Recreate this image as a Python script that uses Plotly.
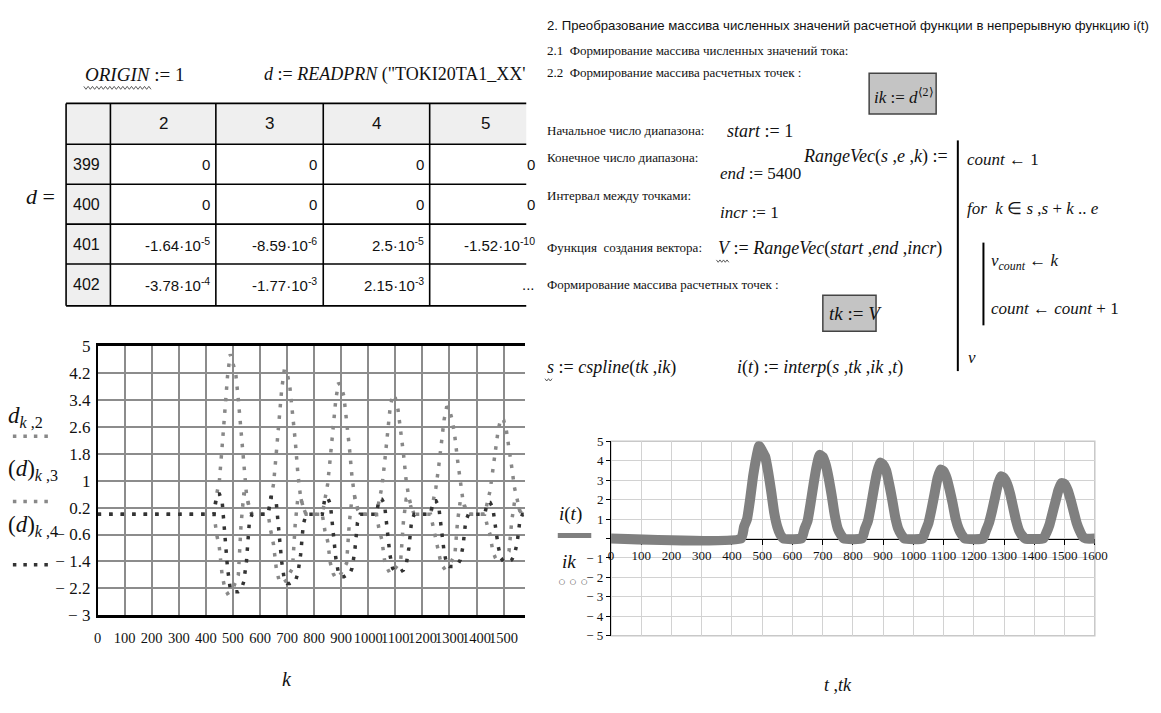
import plotly.graph_objects as go

W, H = 1161, 713


def px(x):
    return x / W


def py(y):
    return 1 - y / H


SERIF = "Liberation Serif, Times New Roman, serif"
SANS = "Liberation Sans, Arial, sans-serif"

# ---------------- data ----------------
k = [0,
     430, 440, 450, 460, 470, 480, 490, 500, 510, 520, 530, 540, 550, 560, 570,
     630, 640, 650, 660, 670, 680, 690, 700, 710, 720, 730, 740, 750, 760, 770,
     830, 840, 850, 860, 870, 880, 890, 900, 910, 920, 930, 940, 950, 960, 970,
     1030, 1040, 1050, 1060, 1070, 1080, 1090, 1100, 1110, 1120, 1130, 1140, 1150, 1160, 1170,
     1230, 1240, 1250, 1260, 1270, 1280, 1290, 1300, 1310, 1320, 1330, 1340, 1350, 1360, 1370,
     1430, 1440, 1450, 1460, 1470, 1480, 1490, 1500, 1510, 1520, 1530, 1540, 1550, 1560, 1570,
     1600]

d2 = [0,
      0, 0.6, 1.0, 2.0, 3.2, 4.1, 4.75, 4.5, 4.2, 3.4, 2.4, 1.3, 0.6, 0.2, 0,
      0, 0.5, 0.9, 1.8, 2.8, 3.7, 4.3, 4.2, 3.8, 3.1, 2.2, 1.2, 0.5, 0.2, 0,
      0, 0.5, 0.9, 1.7, 2.6, 3.4, 3.9, 3.8, 3.5, 2.8, 2.0, 1.1, 0.5, 0.2, 0,
      0, 0.4, 0.8, 1.5, 2.3, 3.1, 3.55, 3.45, 3.1, 2.5, 1.8, 1.0, 0.5, 0.2, 0,
      0, 0.4, 0.8, 1.4, 2.1, 2.8, 3.2, 3.1, 2.8, 2.3, 1.6, 0.9, 0.4, 0.15, 0,
      0, 0.3, 0.7, 1.3, 1.9, 2.5, 2.85, 2.8, 2.5, 2.0, 1.4, 0.8, 0.4, 0.1, 0,
      0]

d3 = [0,
      0, -0.6, -1.0, -1.8, -2.2, -2.35, -2.3, -2.2, -2.0, -1.8, -0.3, 0.6, 0.6, 0.2, 0,
      0, -0.5, -0.9, -1.6, -1.95, -2.05, -2.0, -1.95, -1.75, -1.6, -0.3, 0.5, 0.5, 0.2, 0,
      0, -0.5, -0.8, -1.45, -1.75, -1.9, -1.85, -1.75, -1.6, -1.45, -0.25, 0.5, 0.5, 0.15, 0,
      0, -0.45, -0.75, -1.35, -1.6, -1.75, -1.7, -1.6, -1.5, -1.35, -0.2, 0.45, 0.45, 0.15, 0,
      0, -0.4, -0.7, -1.2, -1.5, -1.6, -1.55, -1.5, -1.35, -1.2, -0.2, 0.4, 0.4, 0.1, 0,
      0, -0.35, -0.6, -1.1, -1.3, -1.4, -1.4, -1.3, -1.2, -1.1, -0.2, 0.35, 0.35, 0.1, 0,
      0]

d4 = [0,
      0, 0.6, 0.6, 0.4, -0.7, -1.6, -2.2, -2.3, -2.3, -2.3, -2.25, -2.0, -1.4, -0.3, 0,
      0, 0.5, 0.5, 0.35, -0.6, -1.4, -1.95, -2.05, -2.05, -2.0, -2.0, -1.75, -1.2, -0.3, 0,
      0, 0.5, 0.5, 0.3, -0.55, -1.3, -1.75, -1.85, -1.85, -1.8, -1.8, -1.6, -1.1, -0.25, 0,
      0, 0.45, 0.45, 0.3, -0.5, -1.2, -1.6, -1.7, -1.7, -1.7, -1.65, -1.5, -1.0, -0.2, 0,
      0, 0.4, 0.4, 0.25, -0.45, -1.1, -1.5, -1.55, -1.55, -1.55, -1.5, -1.35, -0.95, -0.2, 0,
      0, 0.35, 0.35, 0.2, -0.4, -0.95, -1.3, -1.4, -1.4, -1.4, -1.35, -1.2, -0.85, -0.2, 0,
      0]

left_xticks = [0, 100, 200, 300, 400, 500, 600, 700, 800, 900, 1000, 1100, 1200, 1300, 1400, 1500]
left_xtext = ["0", "100", "200", "300", "400", "500", "600", "700", "800", "900",
              "1000", "1100", "1200", "1300", "1400", "1500"]
left_yticks = [-3, -2.2, -1.4, -0.6, 0.2, 1, 1.8, 2.6, 3.4, 4.2, 5]
left_ytext = ["− 3", "− 2.2", "− 1.4", "− 0.6", "0.2", "1", "1.8", "2.6", "3.4", "4.2", "5"]

right_xticks = [0, 100, 200, 300, 400, 500, 600, 700, 800, 900, 1000, 1100, 1200, 1300, 1400, 1500, 1600]
right_xtext = ["0", "100", "200", "300", "400", "500", "600", "700", "800", "900",
               "1000", "1100", "1200", "1300", "1400", "1500", "1600"]
right_yticks = [-5, -4, -3, -2, -1, 0, 1, 2, 3, 4, 5]
right_ytext = ["− 5", "− 4", "− 3", "− 2", "− 1", "", "1", "2", "3", "4", "5"]

table_cols = ["2", "3", "4", "5"]
table_rows = ["399", "400", "401", "402"]
table_cells = [
    ["0", "0", "0", "0"],
    ["0", "0", "0", "0"],
    ["-1.64·10<sup>-5</sup>", "-8.59·10<sup>-6</sup>", "2.5·10<sup>-5</sup>", "-1.52·10<sup>-10</sup>"],
    ["-3.78·10<sup>-4</sup>", "-1.77·10<sup>-3</sup>", "2.15·10<sup>-3</sup>", "..."],
]

# ---------------- figure ----------------
fig = go.Figure()

GRAY = "#888888"
DARK = "#333333"
DOT = "3.5px,8px"

fig.add_trace(go.Scatter(x=k, y=d2, mode="lines", xaxis="x", yaxis="y",
                         line=dict(color=GRAY, width=3.5, dash=DOT), showlegend=False))
fig.add_trace(go.Scatter(x=k, y=d3, mode="lines", xaxis="x", yaxis="y",
                         line=dict(color=GRAY, width=3.5, dash=DOT), showlegend=False))
fig.add_trace(go.Scatter(x=k, y=d4, mode="lines", xaxis="x", yaxis="y",
                         line=dict(color=DARK, width=3.5, dash=DOT), showlegend=False))

fig.add_trace(go.Scatter(x=k, y=d2, mode="lines", xaxis="x2", yaxis="y2",
                         line=dict(color="#808080", width=10, shape="spline", smoothing=0.45),
                         showlegend=False))

# plot area geometry (pixels)
L = dict(x0=95, x1=529, y0=346, y1=623)
R = dict(x0=616, x1=1107, y0=444, y1=644)

fig.update_layout(
    width=W, height=H,
    margin=dict(l=0, r=0, t=0, b=0),
    paper_bgcolor="white", plot_bgcolor="white",
    xaxis=dict(domain=[px(L["x0"]), px(L["x1"])], range=[0, 1580], anchor="y",
               tickmode="array", tickvals=left_xticks, ticktext=left_xtext, tickangle=0,
               showgrid=True, gridcolor="#8c8c8c", gridwidth=1.5, zeroline=False,
               showline=True, linecolor="black", linewidth=2.5, mirror=True,
               ticks="", ticklabelstandoff=7,
               tickfont=dict(family=SERIF, size=14.5, color="#111")),
    yaxis=dict(domain=[py(L["y1"]), py(L["y0"])], range=[-3, 5], anchor="x",
               tickmode="array", tickvals=left_yticks, ticktext=left_ytext,
               showgrid=True, gridcolor="#8c8c8c", gridwidth=1.5, zeroline=False,
               showline=True, linecolor="black", linewidth=1.5,
               ticks="", ticklabelstandoff=2,
               tickfont=dict(family=SERIF, size=17, color="#111")),
    xaxis2=dict(domain=[px(R["x0"]), px(R["x1"])], range=[0, 1600], anchor="free",
                position=py(544), tickangle=0,
                tickmode="array", tickvals=right_xticks, ticktext=right_xtext,
                showgrid=True, gridcolor="#d2d2d2", gridwidth=1.2, zeroline=False,
                showline=True, linecolor="black", linewidth=1,
                ticks="outside", ticklen=5, tickcolor="black", layer="below traces",
                tickfont=dict(family=SERIF, size=13, color="#111")),
    yaxis2=dict(domain=[py(R["y1"]), py(R["y0"])], range=[-5, 5], anchor="x2",
                tickmode="array", tickvals=right_yticks, ticktext=right_ytext,
                showgrid=True, gridcolor="#d2d2d2", gridwidth=1.2, zeroline=False,
                showline=True, linecolor="black", linewidth=1,
                ticks="outside", ticklen=4, tickcolor="black", layer="below traces",
                ticklabelstandoff=0,
                tickfont=dict(family=SERIF, size=13, color="#111")),
)

shapes = []
ann = []


def txt(x, y, s, size=13, family=SERIF, anchor="left", color="#111"):
    ann.append(dict(x=px(x), y=py(y), xref="paper", yref="paper", text=s, showarrow=False,
                    xanchor=anchor, yanchor="middle",
                    font=dict(family=family, size=size, color=color)))


def line(x0, y0, x1, y1, color="black", width=1.5, dash="solid", layer="above"):
    shapes.append(dict(type="line", xref="paper", yref="paper",
                       x0=px(x0), y0=py(y0), x1=px(x1), y1=py(y1), layer=layer,
                       line=dict(color=color, width=width, dash=dash)))


def rect(x0, y0, x1, y1, fill=None, color="black", width=1.5, layer="below"):
    shapes.append(dict(type="rect", xref="paper", yref="paper",
                       x0=px(x0), y0=py(y0), x1=px(x1), y1=py(y1), layer=layer,
                       fillcolor=fill if fill else "rgba(0,0,0,0)",
                       line=dict(color=color, width=width)))


def zigzag(x0, x1, y, amp=1.5, step=2.2):
    pts = []
    x = x0
    i = 0
    while x <= x1:
        pts.append((x, y + (amp if i % 2 else -amp)))
        x += step
        i += 1
    path = "M " + " L ".join(f"{px(a):.5f},{py(b):.5f}" for a, b in pts)
    shapes.append(dict(type="path", xref="paper", yref="paper", path=path,
                       line=dict(color="#333", width=0.8)))


# ---------- top-left: ORIGIN, READPRN ----------
txt(80, 67, "<i>ORIGIN</i> := 1", size=19)
zigzag(81, 150, 81)
txt(262, 67, "<i>d</i> := <i>READPRN</i> (\"TOKI20TA1_XX'", size=18)
txt(20, 193, "<i>d</i> =", size=22)

# ---------- table ----------
col_x = [63, 108, 215, 324, 432, 545]
row_y = [97, 139, 180, 221, 262, 305]
TX1 = 530
rect(col_x[0], row_y[0], TX1, row_y[1], fill="#efefef", width=0)
rect(col_x[0], row_y[1], col_x[1], row_y[-1], fill="#efefef", width=0)
for yy in row_y:
    line(col_x[0], yy, TX1, yy, width=1.6)
for xx in col_x[:5]:
    line(xx, row_y[0], xx, row_y[-1], width=1.6)
for j, c in enumerate(table_cols):
    txt((col_x[j + 1] + col_x[j + 2]) / 2, (row_y[0] + row_y[1]) / 2, c, size=17,
        family=SANS, anchor="center")
for i, r in enumerate(table_rows):
    yc = (row_y[i + 1] + row_y[i + 2]) / 2
    txt(col_x[0] + 5, yc, r, size=16, family=SANS)
    for j in range(4):
        txt(col_x[j + 2] - 4, yc, table_cells[i][j], size=15, family=SANS, anchor="right")

# ---------- left chart labels ----------
txt(2, 419, "<i>d</i><sub><i>k</i> ,2</sub>", size=23)
line(9, 439, 47, 439, color=GRAY, width=3.5, dash="3.5px,7px")
txt(2, 474, "(<i>d</i>)<sub><i>k</i> ,3</sub>", size=23)
line(9, 506, 47, 506, color=GRAY, width=3.5, dash="3.5px,7px")
txt(2, 531, "(<i>d</i>)<sub><i>k</i> ,4</sub>", size=23)
line(9, 571, 47, 571, color=DARK, width=3.5, dash="3.5px,7px")
txt(287, 688, "<i>k</i>", size=20, anchor="center")

# ---------- right chart decorations ----------
rect(R["x0"], R["y0"], R["x1"], R["y1"], color="#c8c8c8", width=1.5)
txt(575, 519, "<i>i</i>(<i>t</i>)", size=19, anchor="center")
line(562, 541, 596, 541, color="#808080", width=5)
txt(573, 568, "<i>ik</i>", size=19, anchor="center")
txt(577, 588, "○ ○ ○", size=13, anchor="center", color="#666")
txt(846, 694, "<i>t</i> ,<i>tk</i>", size=18, anchor="center")

# ---------- right top text ----------
txt(549, 17, "2. Преобразование массива численных значений расчетной функции в непрерывную функцию i(t)",
    size=13.2, family=SANS)
txt(549, 43, "2.1  Формирование массива численных значений тока:", size=13)
txt(549, 65, "2.2  Формирование массива расчетных точек :", size=13)
rect(878, 66, 946, 108, fill="#c4c4c4", color="#444", width=1.5)
txt(881, 89, "<i>ik</i> := <i>d</i><sup>⟨2⟩</sup>", size=17)

txt(549, 125, "Начальное число диапазона:", size=13)
txt(732, 125, "<i>start</i> := 1", size=18)
txt(549, 153, "Конечное число диапазона:", size=13)
txt(725, 169, "<i>end</i> := 5400", size=17)
txt(809, 152, "<i>RangeVec</i>(<i>s</i> ,<i>e</i> ,<i>k</i>) :=", size=18)
txt(549, 192, "Интервал между точками:", size=13)
txt(725, 209, "<i>incr</i> := 1", size=17)
txt(549, 245, "Функция  создания вектора:", size=13)
txt(723, 246, "<i>V</i> := <i>RangeVec</i>(<i>start</i> ,<i>end</i> ,<i>incr</i>)", size=18)
zigzag(723, 736, 259, amp=1.2, step=1.8)
txt(549, 283, "Формирование массива расчетных точек :", size=13)
rect(831, 294, 885, 331, fill="#c4c4c4", color="#444", width=1.5)
txt(835, 313, "<i>tk</i> := <i>V</i>", size=19)
txt(549, 368, "<i>s</i> := <i>cspline</i>(<i>tk</i> ,<i>ik</i>)", size=18)
zigzag(549, 557, 381, amp=1.2, step=1.8)
txt(742, 368, "<i>i</i>(<i>t</i>) := <i>interp</i>(<i>s</i> ,<i>tk</i> ,<i>ik</i> ,<i>t</i>)", size=18)

line(968, 135, 968, 372, width=2)
txt(975, 155, "<i>count</i> ← 1", size=17)
txt(975, 205, "<i>for</i>  <i>k</i> ∈ <i>s</i> ,<i>s</i> + <i>k</i> .. <i>e</i>", size=17)
line(994, 240, 994, 325, width=2)
txt(1000, 260, "<i>v</i><sub><i>count</i></sub> ← <i>k</i>", size=17)
txt(1000, 308, "<i>count</i> ← <i>count</i> + 1", size=17)
txt(976, 358, "<i>v</i>", size=17)

fig.update_layout(shapes=shapes, annotations=ann)

fig.write_html("out.html")
